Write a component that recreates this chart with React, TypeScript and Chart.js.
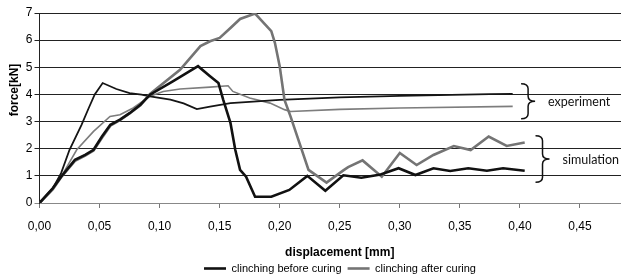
import React, { useEffect, useRef } from "react";
import { Chart, registerables } from "chart.js";

Chart.register(...registerables);

// Simulation, clinching before curing (thick black)
const simBeforeX = [0, 0.011, 0.018, 0.0295, 0.038, 0.045, 0.052, 0.059, 0.067, 0.075, 0.084, 0.092, 0.111, 0.132, 0.142, 0.149, 0.153, 0.159, 0.163, 0.167, 0.172, 0.1795, 0.193, 0.208, 0.223, 0.238, 0.253, 0.268, 0.284, 0.299, 0.313, 0.328, 0.342, 0.357, 0.3725, 0.386, 0.404];
const simBeforeY = [0, 0.54, 0.97, 1.59, 1.77, 1.96, 2.45, 2.88, 3.07, 3.31, 3.62, 3.99, 4.48, 5.04, 4.67, 4.42, 3.8, 2.95, 1.96, 1.22, 0.97, 0.23, 0.23, 0.48, 1.0, 0.45, 1.02, 0.93, 1.05, 1.28, 1.03, 1.28, 1.18, 1.28, 1.19, 1.28, 1.19];

// Simulation, clinching after curing (thick grey)
const simAfterX = [0, 0.011, 0.018, 0.0295, 0.038, 0.045, 0.052, 0.059, 0.067, 0.075, 0.084, 0.092, 0.117, 0.134, 0.142, 0.15, 0.159, 0.167, 0.1795, 0.193, 0.196, 0.2, 0.204, 0.209, 0.224, 0.239, 0.253, 0.257, 0.269, 0.285, 0.3, 0.314, 0.328, 0.345, 0.359, 0.374, 0.389, 0.404];
const simAfterY = [0, 0.5, 0.95, 1.55, 1.75, 1.93, 2.4, 2.85, 3.05, 3.3, 3.6, 4.02, 4.91, 5.78, 5.96, 6.08, 6.45, 6.78, 6.98, 6.33, 5.9, 5.04, 3.8, 3.19, 1.22, 0.75, 1.2, 1.32, 1.57, 0.97, 1.84, 1.4, 1.77, 2.1, 1.95, 2.45, 2.1, 2.23];

// Experiment, clinching before curing (thin black)
const expBeforeX = [0, 0.011, 0.018, 0.025, 0.035, 0.041, 0.046, 0.0526, 0.064, 0.075, 0.085, 0.092, 0.109, 0.12, 0.131, 0.142, 0.159, 0.2, 0.25, 0.3, 0.375, 0.394];
const expBeforeY = [0, 0.54, 1.1, 1.96, 2.88, 3.5, 4.0, 4.42, 4.2, 4.05, 3.99, 3.93, 3.81, 3.67, 3.46, 3.55, 3.68, 3.8, 3.89, 3.95, 4.01, 4.02];

// Experiment, clinching after curing (thin grey)
const expAfterX = [0, 0.011, 0.0198, 0.031, 0.045, 0.0587, 0.067, 0.078, 0.092, 0.103, 0.117, 0.142, 0.157, 0.161, 0.175, 0.192, 0.204, 0.209, 0.25, 0.3, 0.394];
const expAfterY = [0, 0.54, 1.1, 1.96, 2.64, 3.19, 3.25, 3.5, 3.93, 4.11, 4.2, 4.27, 4.32, 4.11, 3.87, 3.68, 3.44, 3.37, 3.45, 3.5, 3.56];

const seriesLabels = ["clinching before curing", "clinching after curing"];
const xTitle = "displacement [mm]";
const yTitle = "force[kN]";
const xMin = 0;
const xMax = 0.5;
const xStep = 0.05;
const yMin = 0;
const yMax = 7;
const yStep = 1;

// Brace annotations
const braceNames = ["experiment", "simulation"];
const braceX = [0.401, 0.413];
const braceTop = [4.39, 2.48];
const braceBottom = [3.1, 0.76];

const toPoints = (xs: number[], ys: number[]) => xs.map((x, i) => ({ x, y: ys[i] }));

const annotationPlugin = {
  id: "braces",
  afterDraw(chart: any) {
    const { ctx, scales } = chart;
    const xs = scales.x;
    const ys = scales.y;
    ctx.save();
    // y-axis title
    ctx.save();
    ctx.translate(14.5, 90);
    ctx.rotate(-Math.PI / 2);
    ctx.font = "bold 12px 'Liberation Sans', Arial, sans-serif";
    ctx.fillStyle = "#000";
    ctx.textAlign = "center";
    ctx.textBaseline = "middle";
    ctx.fillText(yTitle, 0, 0);
    ctx.restore();

    ctx.strokeStyle = "#111";
    ctx.lineWidth = 1.5;
    const w = 14;
    const r = 5;
    braceNames.forEach((name, i) => {
      const x0 = xs.getPixelForValue(braceX[i]);
      const yT = ys.getPixelForValue(braceTop[i]);
      const yB = ys.getPixelForValue(braceBottom[i]);
      const yM = (yT + yB) / 2;
      const xm = x0 + w / 2;
      ctx.beginPath();
      ctx.moveTo(x0, yT);
      ctx.quadraticCurveTo(xm, yT, xm, yT + r);
      ctx.lineTo(xm, yM - r);
      ctx.quadraticCurveTo(xm, yM, x0 + w, yM);
      ctx.quadraticCurveTo(xm, yM, xm, yM + r);
      ctx.lineTo(xm, yB - r);
      ctx.quadraticCurveTo(xm, yB, x0, yB);
      ctx.stroke();
      ctx.font = "12.5px Lato, 'Liberation Sans', sans-serif";
      ctx.fillStyle = "#111";
      ctx.textAlign = "left";
      ctx.textBaseline = "middle";
      ctx.fillText(name, x0 + w + 13, yM + 1);
    });
    ctx.restore();
  },
};

export default function App() {
  const ref = useRef<HTMLCanvasElement | null>(null);

  useEffect(() => {
    if (!ref.current) return;
    const chart = new Chart(ref.current, {
      type: "line",
      data: {
        datasets: [
          {
            label: seriesLabels[0],
            data: toPoints(simBeforeX, simBeforeY),
            borderColor: "#111111",
            backgroundColor: "#111111",
            borderWidth: 2.6,
            pointRadius: 0,
            tension: 0,
          },
          {
            label: seriesLabels[1],
            data: toPoints(simAfterX, simAfterY),
            borderColor: "#747474",
            backgroundColor: "#747474",
            borderWidth: 2.6,
            pointRadius: 0,
            tension: 0,
          },
          {
            label: "exp-before",
            data: toPoints(expBeforeX, expBeforeY),
            borderColor: "#151515",
            borderWidth: 1.8,
            pointRadius: 0,
            tension: 0,
          },
          {
            label: "exp-after",
            data: toPoints(expAfterX, expAfterY),
            borderColor: "#7d7d7d",
            borderWidth: 1.6,
            pointRadius: 0,
            tension: 0,
          },
        ],
      },
      options: {
        responsive: false,
        animation: false,
        devicePixelRatio: 1,
        layout: { padding: { top: 13, left: 0, right: 0, bottom: 0 } },
        plugins: {
          tooltip: { enabled: false },
          legend: {
            position: "bottom",
            maxHeight: 23,
            labels: {
              filter: (item: any) => item.datasetIndex < 2,
              usePointStyle: true,
              pointStyle: "line",
              pointStyleWidth: 22,
              boxHeight: 11,
              padding: 6,
              color: "#000",
              font: { family: "'Liberation Sans', Arial, sans-serif", size: 11 },
            },
          },
        },
        scales: {
          x: {
            type: "linear",
            min: xMin,
            max: xMax,
            bounds: "data",
            afterFit: (s: any) => {
              s.height = 54;
            },
            ticks: {
              stepSize: xStep,
              includeBounds: false,
              padding: 11,
              color: "#000",
              maxRotation: 0,
              autoSkip: false,
              font: { family: "'Liberation Sans', Arial, sans-serif", size: 12 },
              callback: (v: any) => Number(v).toFixed(2).replace(".", ","),
            },
            grid: { drawOnChartArea: false, drawTicks: true, tickLength: 5, color: "#777" },
            border: { display: true, color: "#888", width: 1 },
            title: {
              display: true,
              text: xTitle,
              color: "#000",
              padding: { top: 9, bottom: -3 },
              font: { family: "'Liberation Sans', Arial, sans-serif", size: 12, weight: "bold" },
            },
          },
          y: {
            type: "linear",
            min: yMin,
            max: yMax,
            afterFit: (s: any) => {
              s.width = 39.5;
            },
            ticks: {
              stepSize: yStep,
              padding: 2,
              color: "#000",
              font: { family: "'Liberation Sans', Arial, sans-serif", size: 12 },
            },
            grid: {
              color: (c: any) => (c.index === 0 ? "#888" : "#222"),
              lineWidth: 1,
              tickLength: 5,
            },
            border: { display: true, color: "#222", width: 1 },
          },
          yR: {
            type: "linear",
            position: "right",
            display: true,
            grid: { display: false },
            ticks: { display: false },
            border: { display: false },
            afterFit: (s: any) => {
              s.width = 40;
            },
          },
        },
      },
      plugins: [annotationPlugin],
    } as any);
    return () => chart.destroy();
  }, []);

  return (
    <div
      style={{
        position: "fixed",
        left: 0,
        top: 0,
        width: 621,
        height: 280,
        overflow: "hidden",
        background: "#fff",
      }}
    >
      <canvas ref={ref} width={680} height={280} style={{ display: "block", width: 680, height: 280 }} />
    </div>
  );
}
